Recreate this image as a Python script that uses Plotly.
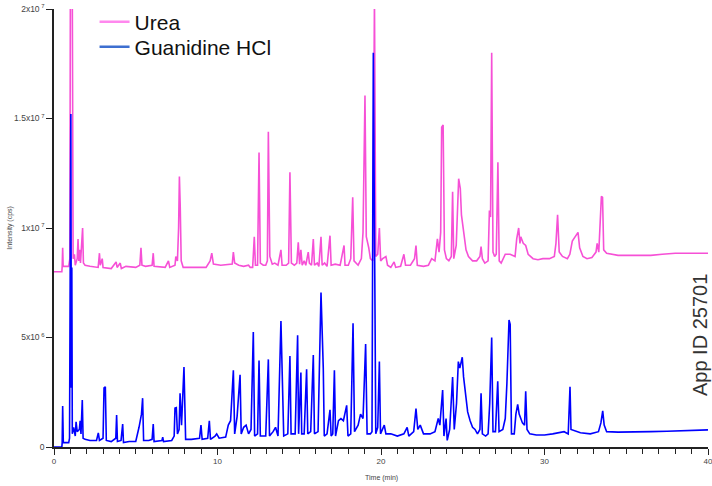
import plotly.graph_objects as go

# ---- Data (time in min, intensity in 1e6 cps) ----
urea_t = [0, 0.48, 0.5, 0.53, 0.56, 0.9, 0.97, 1.0, 1.12, 1.17, 1.25, 1.3, 1.42, 1.47, 1.52, 1.57, 1.62, 1.7, 1.75, 1.8,
          1.9, 2.2, 2.7, 2.78, 2.83, 2.95, 3.0, 3.5, 3.8, 3.86, 4.05, 4.12, 4.4, 5.0, 5.25, 5.32, 5.38, 5.6, 6.0, 6.07,
          6.12, 6.8, 7.0, 7.08, 7.4, 7.45, 7.55, 7.62, 7.67, 7.72, 7.78, 7.9, 8.5, 9.3, 9.55, 9.65, 9.75, 10.2, 10.9, 10.97,
          11.05, 11.3, 11.6, 11.9, 12.0, 12.15, 12.25, 12.32, 12.45, 12.54, 12.62, 12.8, 12.95, 13.05, 13.11, 13.2, 13.35, 13.5, 13.7, 13.88,
          13.95, 14.2, 14.35, 14.43, 14.52, 14.7, 14.85, 14.94, 15.02, 15.1, 15.18, 15.3, 15.4, 15.55, 15.62, 15.75, 15.86, 15.93, 16.1, 16.2,
          16.33, 16.4, 16.55, 16.7, 16.88, 16.95, 17.2, 17.5, 17.74, 17.8, 18.0, 18.15, 18.27, 18.35, 18.6, 18.8, 18.9, 19.02, 19.1, 19.25,
          19.35, 19.5, 19.6, 19.68, 19.8, 19.9, 19.98, 20.1, 20.3, 20.4, 20.6, 20.8, 20.9, 21.2, 21.4, 21.5, 21.8, 22.05, 22.14, 22.22,
          22.6, 22.9, 23.1, 23.3, 23.45, 23.55, 23.65, 23.71, 23.8, 23.88, 24.0, 24.15, 24.3, 24.38, 24.45, 24.6, 24.75, 24.85, 24.92, 25.05,
          25.2, 25.35, 25.6, 25.85, 26.05, 26.12, 26.2, 26.35, 26.55, 26.63, 26.7, 26.77, 26.85, 26.95, 27.05, 27.15, 27.23, 27.35, 27.6, 27.9,
          28.2, 28.3, 28.42, 28.5, 28.55, 28.7, 28.85, 29.0, 29.3, 29.6, 29.9, 30.3, 30.6, 30.7, 30.8, 30.9, 31.1, 31.4, 31.55, 31.7,
          31.9, 32.05, 32.15, 32.35, 32.6, 32.9, 33.15, 33.22, 33.32, 33.42, 33.48, 33.55, 33.62, 33.8, 34.5, 35.5, 36.5, 37.2, 38.0, 39.0,
          40.0]
urea_i = [8.0, 8.0, 8.25, 9.1, 8.25, 8.25, 8.6, 20.5, 20.5, 8.6, 8.8, 8.3, 8.6, 9.5, 8.5, 9.0, 8.4, 9.6, 10.0, 8.4,
          8.3, 8.25, 8.2, 8.85, 8.3, 8.6, 8.2, 8.15, 8.45, 8.2, 8.4, 8.15, 8.25, 8.2, 8.3, 9.1, 8.3, 8.25, 8.3, 8.85,
          8.25, 8.2, 8.5, 8.2, 8.3, 8.7, 8.5, 10.0, 12.35, 11.0, 8.5, 8.2, 8.2, 8.2, 8.5, 8.85, 8.35, 8.3, 8.35, 8.9,
          8.4, 8.3, 8.25, 8.3, 8.2, 8.2, 9.6, 8.3, 8.3, 13.45, 8.4, 8.3, 8.3, 8.5, 14.4, 8.7, 8.35, 8.4, 8.3, 9.0,
          8.3, 8.3, 8.4, 12.55, 8.4, 8.3, 8.4, 9.35, 8.35, 9.0, 8.3, 8.5, 8.3, 8.9, 8.4, 8.3, 9.5, 8.3, 8.4, 8.25,
          9.6, 8.3, 8.4, 8.25, 9.65, 8.3, 8.35, 8.3, 9.2, 8.3, 8.3, 8.6, 11.4, 8.5, 8.3, 8.6, 9.8, 16.05, 9.6, 9.1,
          8.6, 8.5, 20.5, 8.7, 8.8, 10.0, 8.5, 8.6, 8.7, 8.3, 8.2, 8.45, 8.2, 8.25, 8.8, 8.3, 8.3, 8.6, 9.2, 8.3,
          8.25, 8.3, 8.6, 8.5, 9.5, 8.9, 9.8, 14.6, 14.7, 9.0, 8.6, 8.5, 8.7, 11.65, 8.6, 9.2, 12.25, 11.8, 10.6, 9.9,
          9.0, 8.7, 8.5, 8.5, 8.7, 9.15, 8.6, 8.4, 8.5, 10.8, 10.5, 18.0, 8.9, 8.7, 8.8, 13.0, 8.5, 8.4, 8.8, 8.8,
          8.7, 9.5, 10.0, 9.3, 9.6, 9.3, 9.2, 8.8, 8.6, 8.55, 8.6, 8.6, 8.7, 9.3, 10.6, 8.9, 8.7, 8.6, 8.8, 9.4,
          9.6, 9.8, 9.1, 8.7, 8.6, 8.65, 8.9, 9.3, 8.9, 10.2, 11.45, 11.4, 9.0, 8.85, 8.75, 8.75, 8.75, 8.8, 8.85, 8.85,
          8.85]

gdn_t = [0, 0.48, 0.5, 0.53, 0.57, 0.9, 0.95, 1.0, 1.03, 1.06, 1.09, 1.12, 1.2, 1.3, 1.35, 1.42, 1.55, 1.6, 1.65, 1.73,
         1.78, 1.9, 2.2, 2.6, 2.71, 2.78, 3.0, 3.06, 3.14, 3.2, 3.5, 3.78, 3.83, 3.88, 4.1, 4.2, 4.25, 4.6, 5.0, 5.2,
         5.35, 5.42, 5.48, 5.8, 6.0, 6.07, 6.12, 6.6, 6.65, 6.7, 7.2, 7.35, 7.4, 7.48, 7.55, 7.65, 7.71, 7.8, 7.95, 8.05,
         8.4, 8.9, 8.99, 9.06, 9.4, 9.5, 9.57, 9.85, 9.95, 10.1, 10.5, 10.66, 10.8, 10.97, 11.05, 11.2, 11.3, 11.38, 11.45, 11.6,
         11.75, 11.9, 12.05, 12.19, 12.27, 12.45, 12.54, 12.62, 12.95, 13.11, 13.18, 13.4, 13.55, 13.7, 13.88, 13.98, 14.05, 14.3, 14.43, 14.5,
         14.75, 14.9, 14.96, 15.1, 15.15, 15.3, 15.45, 15.52, 15.7, 15.86, 15.93, 16.15, 16.33, 16.47, 16.53, 16.7, 16.88, 16.95, 17.05, 17.15,
         17.22, 17.4, 17.55, 17.7, 17.9, 17.98, 18.15, 18.29, 18.38, 18.6, 18.75, 18.9, 19.06, 19.15, 19.35, 19.45, 19.53, 19.62, 19.68, 19.8,
         19.9, 19.97, 20.2, 20.3, 20.6, 21.0, 21.4, 21.6, 21.7, 22.0, 22.14, 22.25, 22.4, 22.6, 23.0, 23.3, 23.5, 23.6, 23.77, 23.85,
         23.98, 24.05, 24.2, 24.38, 24.48, 24.62, 24.73, 24.82, 24.97, 25.05, 25.15, 25.3, 25.45, 25.6, 25.75, 25.9, 26.05, 26.12, 26.2, 26.4,
         26.55, 26.65, 26.77, 26.85, 27.0, 27.14, 27.22, 27.45, 27.6, 27.7, 27.83, 27.9, 27.98, 28.15, 28.25, 28.36, 28.45, 28.65, 28.78, 28.85,
         28.93, 29.1, 29.5, 30.0, 30.5, 30.9, 31.2, 31.45, 31.56, 31.62, 31.8, 32.2, 32.8, 33.3, 33.45, 33.56, 33.65, 33.8, 34.5, 35.5,
         36.5, 37.5, 38.5, 39.5, 40.0]
gdn_i = [0, 0, 0.2, 1.87, 0.2, 0.2, 0.4, 8.2, 15.2, 2.7, 8.2, 0.6, 0.9, 0.5, 1.15, 0.7, 0.8, 1.2, 0.6, 2.15,
         0.4, 0.35, 0.3, 0.3, 0.64, 0.3, 0.4, 2.7, 2.75, 0.3, 0.25, 0.4, 1.46, 0.25, 0.3, 1.05, 0.2, 0.25, 0.25, 0.9,
         1.5, 2.23, 0.3, 0.3, 0.35, 1.05, 0.25, 0.3, 0.45, 0.25, 0.3, 0.5, 1.78, 1.8, 0.6, 0.8, 2.45, 1.0, 3.65, 0.35,
         0.35, 0.4, 1.0, 0.35, 0.4, 1.2, 0.35, 0.5, 0.6, 0.4, 0.45, 1.0, 1.2, 3.5, 0.6, 1.4, 2.4, 3.3, 0.6, 0.9,
         1.0, 0.6, 0.8, 5.25, 0.5, 0.6, 3.95, 0.5, 0.5, 4.0, 0.5, 0.7, 0.9, 0.5, 5.75, 1.7, 0.5, 0.6, 4.15, 0.6,
         0.6, 5.1, 0.6, 3.4, 0.6, 0.6, 3.55, 0.6, 0.7, 4.2, 0.6, 0.7, 7.05, 3.6, 0.5, 0.6, 1.7, 0.5, 0.6, 3.5,
         0.5, 1.2, 1.3, 1.2, 1.9, 0.5, 0.6, 5.65, 0.7, 1.0, 1.5, 1.3, 4.7, 0.6, 0.6, 0.7, 18.0, 7.8, 0.6, 0.9,
         3.9, 0.6, 1.0, 0.6, 0.6, 0.5, 0.6, 0.9, 0.5, 0.7, 1.75, 0.8, 1.0, 0.6, 0.6, 0.7, 1.3, 1.0, 2.6, 0.5,
         1.3, 0.3, 0.8, 3.2, 0.8, 2.0, 3.9, 3.6, 4.1, 3.2, 2.6, 1.6, 1.2, 0.9, 0.8, 0.6, 0.8, 2.45, 0.6, 0.5,
         0.6, 2.0, 5.0, 0.7, 0.7, 3.0, 0.7, 0.8, 1.3, 2.9, 5.8, 5.6, 0.6, 0.6, 1.5, 1.95, 1.5, 1.1, 1.0, 2.55,
         0.8, 0.6, 0.55, 0.55, 0.6, 0.65, 0.7, 0.6, 2.75, 0.8, 0.75, 0.65, 0.6, 0.7, 1.1, 1.65, 1.0, 0.7, 0.68, 0.68,
         0.7, 0.72, 0.75, 0.78, 0.78]

series_names = ["Urea", "Guanidine HCl"]
x_tick_vals = [0, 10, 20, 30, 40]
y_tick_vals = [0, 5e6, 1e7, 1.5e7, 2e7]
y_tick_text = ["0", "5x10<sup> 6</sup>", "1x10<sup> 7</sup>", "1.5x10<sup> 7</sup>", "2x10<sup> 7</sup>"]
annotation_text = "App ID 25701"

PINK = "#f650d6"
BLUE = "#0000ff"
FONT = "Liberation Sans, Arial, sans-serif"

fig = go.Figure()
fig.add_trace(go.Scatter(x=urea_t, y=[v * 1e6 for v in urea_i], mode="lines",
                         line=dict(color=PINK, width=1.6), showlegend=False, hoverinfo="skip"))
fig.add_trace(go.Scatter(x=gdn_t, y=[v * 1e6 for v in gdn_i], mode="lines",
                         line=dict(color=BLUE, width=1.6), showlegend=False, hoverinfo="skip"))
# legend entries (two separately positioned legends)
fig.add_trace(go.Scatter(x=[None], y=[None], mode="lines", name=series_names[0],
                         line=dict(color="#ff88ee", width=2.5), legend="legend"))
fig.add_trace(go.Scatter(x=[None], y=[None], mode="lines", name=series_names[1],
                         line=dict(color="#3d6fd0", width=2.5), legend="legend2"))

legend_common = dict(xanchor="left", yanchor="middle",
                     font=dict(size=21, color="#111111", family=FONT),
                     bgcolor="rgba(0,0,0,0)", itemwidth=30)

fig.update_layout(
    width=712, height=486,
    margin=dict(l=54, r=4, t=9, b=39, autoexpand=False),
    paper_bgcolor="white", plot_bgcolor="white",
    font=dict(family=FONT, color="#333333"),
    legend=dict(x=0.062, y=1 - (22 - 9) / 438, **legend_common),
    legend2=dict(x=0.062, y=1 - (47 - 9) / 438, **legend_common),
    xaxis=dict(range=[0, 40], showgrid=False, zeroline=False,
               showline=True, linecolor="#222222", linewidth=1.5,
               ticks="outside", ticklen=6, tickwidth=1.2, tickcolor="#222222",
               tickvals=x_tick_vals, ticktext=[str(v) for v in x_tick_vals],
               tickfont=dict(size=8, color="#444444"), ticklabeloverflow="allow",
               minor=dict(dtick=1, ticks="outside", ticklen=5, tickwidth=1.2, tickcolor="#222222")),
    yaxis=dict(range=[0, 2e7], showgrid=False, zeroline=False,
               showline=True, linecolor="#222222", linewidth=1.5,
               ticks="outside", ticklen=6, tickwidth=1.2, tickcolor="#222222",
               tickvals=y_tick_vals, ticktext=y_tick_text,
               tickfont=dict(size=8.5, color="#444444")),
    annotations=[
        dict(text="Intensity (cps)", xref="paper", yref="paper", x=-0.077, y=0.5,
             textangle=-90, showarrow=False, font=dict(size=7, color="#444444")),
        dict(text="Time (min)", xref="paper", yref="paper", x=0.5, y=-0.07,
             yanchor="middle", showarrow=False, font=dict(size=7, color="#444444")),
        dict(text=annotation_text, xref="paper", yref="paper", x=0.988, y=0.256,
             textangle=-90, showarrow=False, yanchor="middle", xanchor="center",
             font=dict(size=20, color="#333333")),
    ],
)

fig.write_html("out.html", config={"displayModeBar": False},
               post_script="document.body.style.margin='0';")
